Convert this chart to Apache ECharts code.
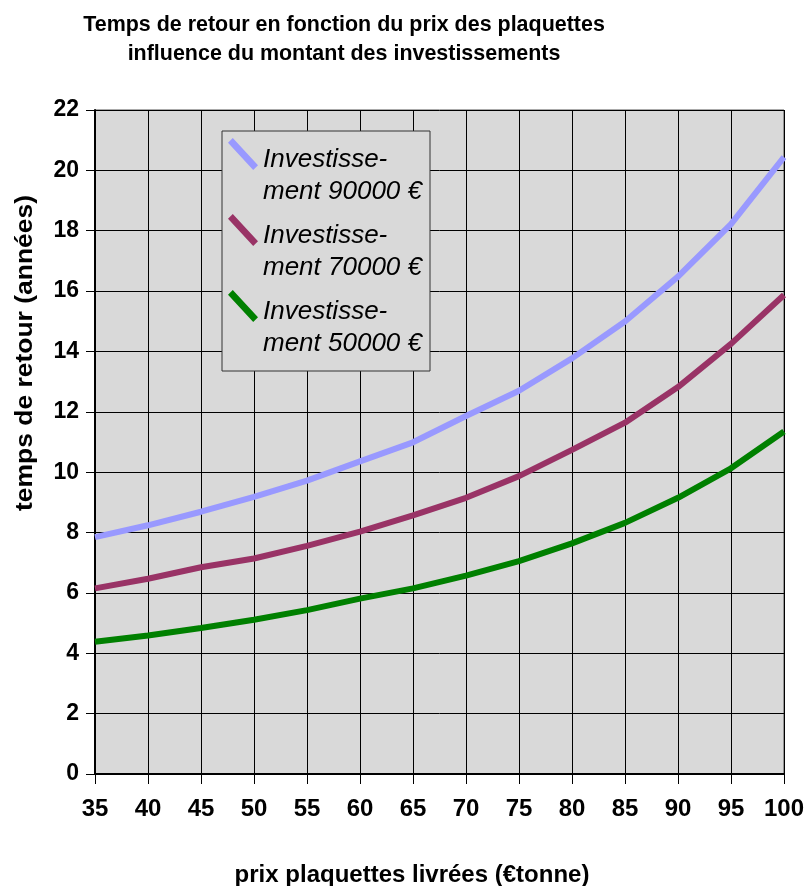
<!DOCTYPE html>
<html>
<head>
<meta charset="utf-8">
<script src="https://cdn.jsdelivr.net/npm/echarts@6/dist/echarts.min.js"></script>
<style>
  html, body { margin: 0; padding: 0; background: #ffffff; }
  #chart { width: 807px; height: 886px; }
</style>
</head>
<body>
<div id="chart"></div>
<script>
// Prix des plaquettes livrées (€/tonne)
const prix = [35, 40, 45, 50, 55, 60, 65, 70, 75, 80, 85, 90, 95, 100];

// Temps de retour (années) selon le montant investi
const invest90000 = [7.85, 8.24, 8.69, 9.18, 9.72, 10.36, 10.99, 11.86, 12.70, 13.77, 14.99, 16.48, 18.22, 20.44];
const invest70000 = [6.15, 6.47, 6.85, 7.14, 7.56, 8.03, 8.57, 9.15, 9.87, 10.74, 11.64, 12.82, 14.25, 15.87];
const invest50000 = [4.38, 4.59, 4.84, 5.11, 5.43, 5.81, 6.15, 6.57, 7.05, 7.64, 8.32, 9.15, 10.13, 11.35];

const seriesNames = ['Investissement 90000 €', 'Investissement 70000 €', 'Investissement 50000 €'];
const seriesColors = ['#9999ff', '#993366', '#008000'];
const seriesValues = [invest90000, invest70000, invest50000];

const titleText = 'Temps de retour en fonction du prix des plaquettes\ninfluence du montant des investissements';
const yName = 'temps de retour (années)';
const xName = 'prix plaquettes livrées (€tonne)';

const font = '"Liberation Sans", Arial, sans-serif';

// Diagonal stroke drawn as a parallelogram; the empty sub-path below
// stretches the icon box so the stroke sits beside the first text line.
const legendIcon = 'path://M0,4.8L4.8,0L30,27.2L25.2,32Z M0,76L0,76Z';

const chart = echarts.init(document.getElementById('chart'), null, { renderer: 'canvas' });

chart.setOption({
  animation: false,
  backgroundColor: '#ffffff',
  grid: {
    left: 95, right: 22, top: 110, bottom: 112,
    show: true,
    backgroundColor: '#d9d9d9',
    borderColor: '#555555',
    borderWidth: 1
  },
  xAxis: {
    type: 'value',
    min: 35, max: 100, interval: 5,
    axisLine: { show: true, onZero: false, lineStyle: { color: '#000', width: 2 } },
    axisTick: { show: true, length: 10, lineStyle: { color: '#000', width: 1 } },
    axisLabel: { margin: 23, fontFamily: font, fontWeight: 'bold', fontSize: 24, color: '#000' },
    splitLine: { show: true, lineStyle: { color: '#000', width: 1 } }
  },
  yAxis: {
    type: 'value',
    min: 0, max: 22, interval: 2,
    axisLine: { show: true, onZero: false, lineStyle: { color: '#000', width: 2 } },
    axisTick: { show: true, length: 9, lineStyle: { color: '#000', width: 1 } },
    axisLabel: { margin: 16, fontFamily: font, fontWeight: 'bold', fontSize: 23, color: '#000' },
    splitLine: { show: true, lineStyle: { color: '#000', width: 1 } }
  },
  legend: {
    orient: 'vertical',
    left: 222, top: 131,
    padding: [7, 8, 5, 6],
    itemGap: 0,
    itemWidth: 30,
    itemHeight: 76,
    icon: legendIcon,
    itemStyle: { borderWidth: 0 },
    backgroundColor: '#d9d9d9',
    borderColor: '#333333',
    borderWidth: 1,
    data: seriesNames,
    formatter: function (name) {
      return name.replace('Investissement ', 'Investisse-\nment ');
    },
    textStyle: {
      fontFamily: font, fontStyle: 'italic', fontSize: 26,
      lineHeight: 32, color: '#000'
    }
  },
  graphic: [
    {
      type: 'text', x: 344, y: 10, scaleX: 0.975,
      style: {
        text: titleText, textAlign: 'center', textVerticalAlign: 'top',
        font: 'bold 22px ' + font, lineHeight: 29, fill: '#000'
      }
    },
    {
      type: 'text', x: 26, y: 353, rotation: Math.PI / 2, scaleX: 1.15,
      style: {
        text: yName, textAlign: 'center', textVerticalAlign: 'middle',
        font: 'bold 23px ' + font, fill: '#000'
      }
    },
    {
      type: 'text', x: 412, y: 875,
      style: {
        text: xName, textAlign: 'center', textVerticalAlign: 'middle',
        font: 'bold 24px ' + font, fill: '#000'
      }
    }
  ],
  series: seriesValues.map(function (vals, i) {
    return {
      name: seriesNames[i],
      type: 'line',
      data: prix.map(function (p, k) { return [p, vals[k]]; }),
      showSymbol: false,
      symbol: 'none',
      color: seriesColors[i],
      lineStyle: { color: seriesColors[i], width: 6 },
      z: 3
    };
  })
});
</script>
</body>
</html>
